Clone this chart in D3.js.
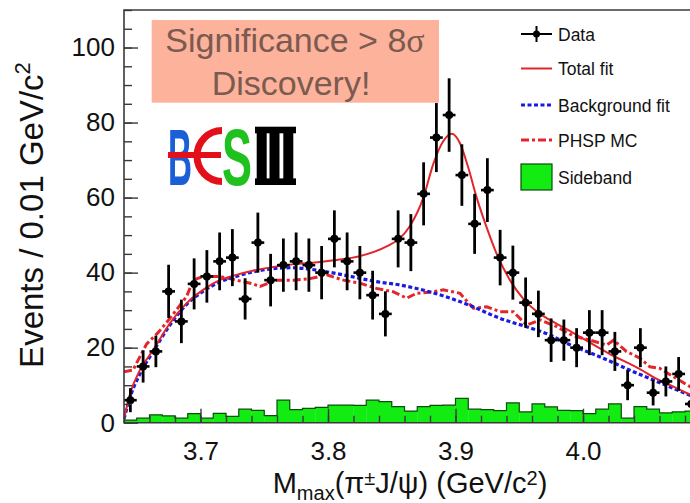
<!DOCTYPE html>
<html>
<head>
<meta charset="utf-8">
<script src="https://cdn.jsdelivr.net/npm/d3@7"></script>
<style>
  body { margin: 0; background: #fff; }
  svg { font-family: "Liberation Sans", Arial, Helvetica, sans-serif; }
</style>
</head>
<body>
<svg id="chart"></svg>
<script>
const width = 690;
const height = 503;

// histogram binning (GeV), 0.01 GeV per bin
const histLo = 3.64;
const binWidth = 0.01;

// data points, one per bin
const dataCounts = [6, 15, 19, 35, 27, 37, 39, 43, 44, 33, 48, 38, 42, 43, 42, 40, 49, 43, 40, 34, 29, 49, 48, 61, 76, 82, 66, 53, 62, 44, 40, 32, 29, 22, 22, 20, 24, 24, 19, 10, 20, 8, 11, 13, 5];
const dataErrors = [3.2, 4.3, 4.2, 7.1, 5.8, 6.8, 7.0, 7.7, 7.6, 5.5, 8.0, 7.0, 7.1, 7.7, 7.1, 7.1, 7.6, 7.7, 7.1, 6.5, 6.0, 7.6, 7.6, 8.4, 9.2, 9.8, 8.2, 8.0, 8.5, 7.4, 7.2, 6.7, 6.2, 5.8, 5.5, 5.2, 6.0, 6.0, 5.2, 4.0, 5.2, 3.4, 4.0, 4.5, 3.0];

// sideband histogram
const sideband = [0.7, 1.2, 2.1, 1.8, 1.2, 2.4, 1.2, 2.5, 1.7, 3.6, 3.3, 1.9, 6.0, 3.5, 3.8, 4.1, 4.7, 4.7, 4.6, 6.0, 5.6, 4.3, 3.1, 4.3, 4.6, 4.7, 6.5, 3.6, 3.5, 3.2, 5.3, 2.9, 5.0, 4.2, 3.3, 3.2, 2.4, 3.6, 5.0, 1.2, 4.3, 3.6, 2.6, 2.9, 3.1];

// total fit
const totalMass = [3.640, 3.645, 3.6525, 3.663, 3.676, 3.689, 3.702, 3.715, 3.728, 3.741, 3.755, 3.772, 3.786, 3.805, 3.825, 3.846, 3.8565, 3.864, 3.8748, 3.8826, 3.8904, 3.897, 3.9035, 3.910, 3.9166, 3.9245, 3.9323, 3.9427, 3.9532, 3.9663, 3.974, 3.993, 4.02, 4.045, 4.057, 4.071, 4.084, 4.10];
const totalValue = [1, 8, 14, 19.4, 26.5, 31.8, 35.4, 38, 39.4, 40.5, 41.4, 42.2, 42.6, 43.3, 44.4, 47, 49.2, 52.3, 60, 69, 75, 77, 74.5, 68, 60, 52, 45, 38, 33, 29, 27.4, 23.8, 18.5, 14.2, 11.8, 9.6, 7.5, 5.5];

// background fit
const bkgMass = [3.640, 3.645, 3.6525, 3.663, 3.676, 3.689, 3.702, 3.715, 3.728, 3.741, 3.755, 3.772, 3.786, 3.812, 3.838, 3.8565, 3.8826, 3.9088, 3.935, 3.961, 3.974, 3.987, 4.013, 4.0395, 4.0656, 4.084, 4.10];
const bkgValue = [1, 7, 13, 19, 26, 31.5, 35, 37.5, 39, 40.2, 41, 41.3, 40.9, 39.4, 37.6, 36.7, 34.6, 31.6, 27.8, 25, 23.4, 21.2, 17.6, 13.6, 9.9, 7.3, 5.2];

// PHSP MC
const phspMass = [3.640, 3.647, 3.6525, 3.6578, 3.6667, 3.676, 3.689, 3.6944, 3.702, 3.715, 3.728, 3.741, 3.7467, 3.7598, 3.7728, 3.7859, 3.799, 3.812, 3.825, 3.838, 3.851, 3.8617, 3.8696, 3.8826, 3.8904, 3.9035, 3.914, 3.9245, 3.9349, 3.9453, 3.9558, 3.9663, 3.9794, 3.9924, 4.0055, 4.0186, 4.024, 4.034, 4.0447, 4.0525, 4.060, 4.0708, 4.084, 4.10];
const phspValue = [13.6, 14, 17.6, 21, 24, 27.8, 33.6, 38, 39, 39, 38, 37, 36.3, 38, 38, 38.4, 39.4, 38, 37.2, 35.8, 34.9, 33.2, 34.5, 34.9, 35.4, 34.5, 30.5, 30.9, 29.6, 29.6, 26, 27.4, 25.6, 23.1, 22, 20.7, 22, 19, 17.2, 14.9, 14.5, 12.3, 9.6, 7];

// ticks
const xMajor = [3.7, 3.8, 3.9, 4.0];
const yMajor = [0, 20, 40, 60, 80, 100];

const legendItems = ["Data", "Total fit", "Background fit", "PHSP MC", "Sideband"];

const red = "#e3262b";
const blue = "#1b1be0";
const green = "#13ec13";
const frameColor = "#3a3a3a";

const svg = d3.select("#chart").attr("width", width).attr("height", height);

const x = d3.scaleLinear().domain([3.64, 4.10]).range([124, 710.5]);
const y = d3.scaleLinear().domain([0, 110]).range([422.7, 10]);

svg.append("defs").append("clipPath").attr("id", "plot-clip")
  .append("rect").attr("x", 124).attr("y", 10).attr("width", 600).attr("height", 413);

const plot = svg.append("g").attr("clip-path", "url(#plot-clip)");

const binLo = sideband.map((d, i) => histLo + i * binWidth);
const binCenter = binLo.map((d) => d + binWidth / 2);

// sideband histogram
plot.append("g").selectAll("rect")
  .data(sideband)
  .join("rect")
  .attr("x", (d, i) => x(binLo[i]))
  .attr("width", (d, i) => x(binLo[i] + binWidth) - x(binLo[i]) + 0.3)
  .attr("y", (d) => y(d))
  .attr("height", (d) => y(0) - y(d))
  .attr("fill", green);

const stepPts = sideband.map((d, i) => [binLo[i], d]);
stepPts.push([binLo[binLo.length - 1] + binWidth, sideband[sideband.length - 1]]);
plot.append("path")
  .attr("d", d3.line().x((d) => x(d[0])).y((d) => y(d[1])).curve(d3.curveStepAfter)(stepPts))
  .attr("fill", "none")
  .attr("stroke", "#0b4d0b")
  .attr("stroke-width", 1.2);

// PHSP MC
plot.append("path")
  .attr("d", d3.line().x((d, i) => x(phspMass[i])).y((d) => y(d))(phspValue))
  .attr("fill", "none")
  .attr("stroke", red)
  .attr("stroke-width", 3)
  .attr("stroke-dasharray", "8,3,3,3");

// background fit
plot.append("path")
  .attr("d", d3.line().x((d, i) => x(bkgMass[i])).y((d) => y(d)).curve(d3.curveMonotoneX)(bkgValue))
  .attr("fill", "none")
  .attr("stroke", blue)
  .attr("stroke-width", 3.2)
  .attr("stroke-dasharray", "4,2.5");

// total fit
plot.append("path")
  .attr("d", d3.line().x((d, i) => x(totalMass[i])).y((d) => y(d)).curve(d3.curveMonotoneX)(totalValue))
  .attr("fill", "none")
  .attr("stroke", red)
  .attr("stroke-width", 2);

// data points
const pts = plot.append("g").selectAll("g")
  .data(dataCounts)
  .join("g");

pts.append("line")
  .attr("x1", (d, i) => x(binCenter[i])).attr("x2", (d, i) => x(binCenter[i]))
  .attr("y1", (d, i) => y(d + dataErrors[i])).attr("y2", (d, i) => y(d - dataErrors[i]))
  .attr("stroke", "#000").attr("stroke-width", 2.8);

pts.append("line")
  .attr("x1", (d, i) => x(binLo[i])).attr("x2", (d, i) => x(binLo[i] + binWidth))
  .attr("y1", (d) => y(d)).attr("y2", (d) => y(d))
  .attr("stroke", "#000").attr("stroke-width", 2.6);

pts.append("circle")
  .attr("cx", (d, i) => x(binCenter[i]))
  .attr("cy", (d) => y(d))
  .attr("r", 4)
  .attr("fill", "#000");

// axes
function styleAxis(g) {
  g.select(".domain").remove();
  g.selectAll(".tick line").attr("stroke", frameColor).attr("stroke-width", 1.4);
  g.selectAll(".tick text").attr("fill", "#111").attr("font-size", 26);
}

svg.append("g")
  .attr("transform", `translate(0,${y(0)})`)
  .call(d3.axisBottom(x).tickValues(d3.ticks(3.64, 4.10, 23)).tickSize(-7).tickFormat(""))
  .call(styleAxis);

svg.append("g")
  .attr("transform", `translate(0,${y(0)})`)
  .call(d3.axisBottom(x).tickValues(xMajor).tickSize(-14).tickPadding(19).tickFormat(d3.format(".1f")))
  .call(styleAxis);

svg.append("g")
  .attr("transform", `translate(124,0)`)
  .call(d3.axisLeft(y).tickValues(d3.range(0, 111, 5)).tickSize(-8).tickFormat(""))
  .call(styleAxis);

svg.append("g")
  .attr("transform", `translate(124,0)`)
  .call(d3.axisLeft(y).tickValues(yMajor).tickSize(-14).tickPadding(9))
  .call(styleAxis);

// frame
svg.append("path")
  .attr("d", `M${x(4.10)},${y(110)}H124V${y(0)}H${x(4.10)}`)
  .attr("fill", "none")
  .attr("stroke", frameColor)
  .attr("stroke-width", 1.6);

// axis titles
const yTitle = svg.append("text")
  .attr("transform", "translate(43,215) rotate(-90)")
  .attr("text-anchor", "middle")
  .attr("font-size", 33)
  .attr("fill", "#111");
yTitle.append("tspan").text("Events / 0.01 GeV/c");
yTitle.append("tspan").attr("font-size", 22).attr("dy", -13).text("2");

const xTitle = svg.append("text")
  .attr("x", 410).attr("y", 493)
  .attr("text-anchor", "middle")
  .attr("font-size", 29)
  .attr("fill", "#111");
xTitle.append("tspan").text("M");
xTitle.append("tspan").attr("font-size", 20).attr("dy", 7).text("max");
xTitle.append("tspan").attr("dy", -7).text("(π");
xTitle.append("tspan").attr("font-size", 20).attr("dy", -8).text("±");
xTitle.append("tspan").attr("dy", 8).text("J/ψ) (GeV/c");
xTitle.append("tspan").attr("font-size", 20).attr("dy", -8).text("2");
xTitle.append("tspan").attr("dy", 8).text(")");

// annotation box
svg.append("rect")
  .attr("x", 151.7).attr("y", 20).attr("width", 287.3).attr("height", 82.7)
  .attr("fill", "#fcb29b");

const note1 = svg.append("text")
  .attr("x", 295).attr("y", 51.5)
  .attr("text-anchor", "middle")
  .attr("font-size", 34)
  .attr("fill", "#7b5a4f");
note1.append("tspan").text("Significance > 8");
note1.append("tspan").attr("font-family", "Liberation Serif, serif").text("σ");

svg.append("text")
  .attr("x", 291).attr("y", 95)
  .attr("text-anchor", "middle")
  .attr("font-size", 34)
  .attr("fill", "#7b5a4f")
  .text("Discovery!");

// BESIII logo
const logo = svg.append("g");
logo.append("text")
  .attr("x", 168).attr("y", 185)
  .attr("font-size", 80).attr("font-weight", "bold")
  .attr("textLength", 24).attr("lengthAdjust", "spacingAndGlyphs")
  .attr("fill", "#1a5fd8").text("B");
logo.append("path")
  .attr("d", "M222,130.5 A25,25.5 0 0 0 222,181.5")
  .attr("fill", "none").attr("stroke", "#e3101c").attr("stroke-width", 7);
logo.append("rect")
  .attr("x", 168).attr("y", 152).attr("width", 53).attr("height", 6)
  .attr("fill", "#e3101c");
logo.append("text")
  .attr("x", 222).attr("y", 185)
  .attr("font-size", 80).attr("font-weight", "bold")
  .attr("textLength", 30).attr("lengthAdjust", "spacingAndGlyphs")
  .attr("fill", "#1fc11f").text("S");
logo.append("rect").attr("x", 255).attr("y", 126.7).attr("width", 41).attr("height", 6.6).attr("fill", "#000");
logo.append("rect").attr("x", 255).attr("y", 178.4).attr("width", 41).attr("height", 6.6).attr("fill", "#000");
[256.7, 269.5, 283.3].forEach((bx) => {
  logo.append("rect").attr("x", bx).attr("y", 130).attr("width", 10).attr("height", 52).attr("fill", "#000");
});

// legend
const legend = svg.append("g").attr("font-size", 17.5).attr("fill", "#111");
const legendY = [34, 68.5, 105, 140, 177];
legendItems.forEach((name, i) => {
  const cy = legendY[i];
  if (name === "Data") {
    legend.append("line").attr("x1", 521).attr("x2", 552).attr("y1", cy).attr("y2", cy)
      .attr("stroke", "#000").attr("stroke-width", 2);
    legend.append("line").attr("x1", 536.5).attr("x2", 536.5).attr("y1", cy - 8).attr("y2", cy + 8)
      .attr("stroke", "#000").attr("stroke-width", 2);
    legend.append("circle").attr("cx", 536.5).attr("cy", cy).attr("r", 3.5).attr("fill", "#000");
  } else if (name === "Total fit") {
    legend.append("line").attr("x1", 521).attr("x2", 552).attr("y1", cy).attr("y2", cy)
      .attr("stroke", red).attr("stroke-width", 2);
  } else if (name === "Background fit") {
    legend.append("line").attr("x1", 521).attr("x2", 552).attr("y1", cy).attr("y2", cy)
      .attr("stroke", blue).attr("stroke-width", 3).attr("stroke-dasharray", "4,2.5");
  } else if (name === "PHSP MC") {
    legend.append("line").attr("x1", 521).attr("x2", 552).attr("y1", cy).attr("y2", cy)
      .attr("stroke", red).attr("stroke-width", 3).attr("stroke-dasharray", "8,3,3,3");
  } else {
    legend.append("rect").attr("x", 521).attr("y", cy - 13).attr("width", 31).attr("height", 26)
      .attr("fill", green).attr("stroke", "#0b4d0b").attr("stroke-width", 1.2);
  }
  legend.append("text").attr("x", 558).attr("y", cy + 6.5).text(name);
});
</script>
</body>
</html>
